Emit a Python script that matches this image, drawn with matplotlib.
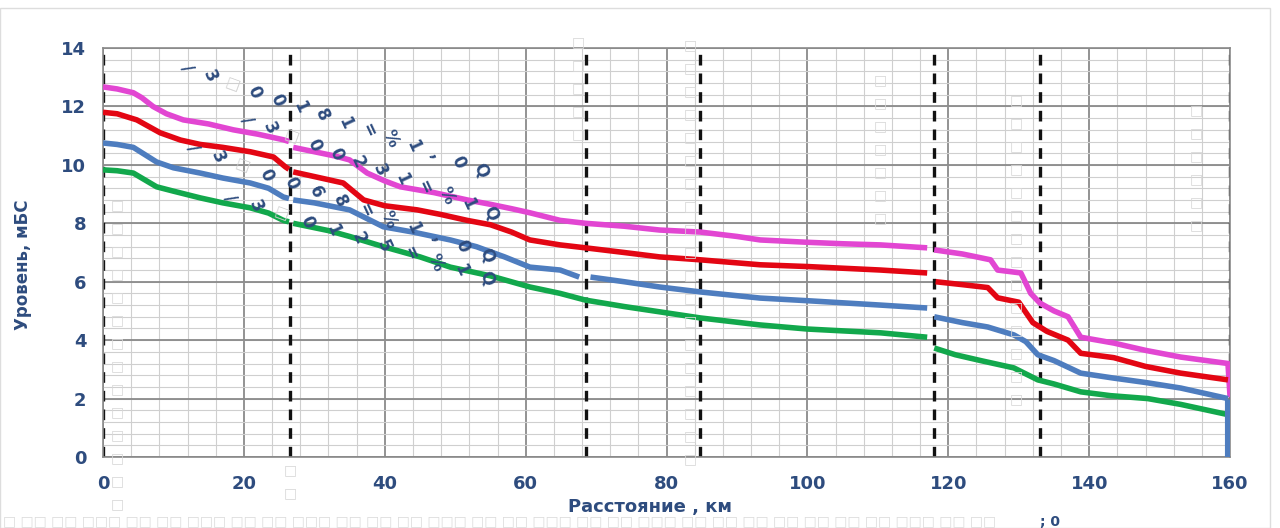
import numpy as np
import matplotlib
matplotlib.use("Agg")
import matplotlib.pyplot as plt
from matplotlib.patches import Rectangle

# ── Data ──────────────────────────────────────────────────────────────────────
# each series is split into segments, the curves break at the dashed posts
MAG_X = [
    [0, 2, 4.3, 5.5, 7.1, 9, 11.4, 15, 18.5, 22, 25.6, 26.4],
    [27, 30, 33, 35, 37.5, 40, 42.2, 47, 51.7, 55, 58, 60.6, 64.9, 68.5, 74, 79,
     84.8, 90, 93.3, 100, 105, 110.4, 117],
    [118, 122, 126, 127, 130.3, 131.7, 133, 135, 137, 138.8, 143.5, 148, 153, 159.7, 160],
]
MAG_Y = [
    [12.67, 12.6, 12.47, 12.3, 12.0, 11.75, 11.54, 11.4, 11.2, 11.05, 10.86, 10.8],
    [10.6, 10.45, 10.3, 10.17, 9.72, 9.45, 9.25, 9.05, 8.8, 8.65, 8.5, 8.36, 8.1, 8.0, 7.9, 7.77,
     7.7, 7.55, 7.43, 7.35, 7.3, 7.26, 7.16],
    [7.09, 6.95, 6.75, 6.4, 6.3, 5.6, 5.27, 5.0, 4.8, 4.1, 3.9, 3.65, 3.42, 3.2, 2.05],
]

RED_X = [
    [0, 2, 4.8, 8.1, 11, 13.8, 17, 20.9, 24.2, 25.9, 26.4],
    [27, 30, 34.1, 37, 40, 44.6, 48, 51.7, 55, 58, 60.6, 64.9, 68.5, 74, 79, 84.8, 93.3, 100, 110.4, 117],
    [118.2, 122, 125.6, 127, 130, 132, 134, 137, 138.8, 143.5, 148, 153, 159.7],
]
RED_Y = [
    [11.8, 11.75, 11.54, 11.1, 10.85, 10.7, 10.6, 10.45, 10.27, 9.93, 9.85],
    [9.76, 9.6, 9.38, 8.8, 8.6, 8.46, 8.3, 8.1, 7.95, 7.7, 7.43, 7.26, 7.16, 7.0, 6.85, 6.75, 6.58, 6.52, 6.4, 6.3],
    [6.0, 5.9, 5.8, 5.45, 5.3, 4.6, 4.3, 4.0, 3.55, 3.4, 3.1, 2.87, 2.64],
]

BLUE_X = [
    [0, 2, 4.3, 7.6, 10, 13.8, 17, 20.9, 23.5, 25.6, 26.4],
    [27, 30, 35, 39.8, 44, 49.3, 53, 57, 60.6, 64.9, 67.6],
    [69.2, 74, 79, 84.8, 93.3, 100, 110.4, 117],
    [118, 122, 125.6, 129.3, 131, 132.7, 135, 138.8, 143.5, 148, 153, 159.7],
]
BLUE_Y = [
    [10.75, 10.7, 10.6, 10.1, 9.9, 9.72, 9.55, 9.38, 9.2, 8.9, 8.85],
    [8.8, 8.7, 8.46, 7.88, 7.7, 7.43, 7.2, 6.85, 6.5, 6.4, 6.16],
    [6.16, 6.0, 5.82, 5.65, 5.44, 5.35, 5.2, 5.1],
    [4.8, 4.6, 4.45, 4.18, 3.95, 3.5, 3.3, 2.87, 2.7, 2.55, 2.36, 2.0],
]
BLUE_END_BAR = [0, 2.0]   # thick bar at the end of the profile

GREEN_X = [
    [0, 2, 4.3, 7.6, 10, 13.8, 17, 20.9, 23.5, 25.6, 26.4],
    [27, 32, 35, 39.8, 45, 49.3, 55, 60.6, 64.9, 68.5, 74, 79, 84.8, 93.3, 100, 110.4, 117],
    [118, 121, 124.6, 129.3, 132.7, 135, 138.8, 143, 148.3, 153, 159.7],
]
GREEN_Y = [
    [9.83, 9.8, 9.72, 9.25, 9.1, 8.87, 8.7, 8.53, 8.35, 8.1, 8.05],
    [8.0, 7.75, 7.55, 7.2, 6.85, 6.5, 6.2, 5.82, 5.6, 5.37, 5.15, 4.97, 4.76, 4.52, 4.38, 4.25, 4.1],
    [3.73, 3.5, 3.3, 3.05, 2.64, 2.5, 2.23, 2.1, 2.0, 1.8, 1.45],
]

POSTS_KM = [0, 26.6, 68.5, 84.8, 118, 133, 160]

X_TICKS = [0, 20, 40, 60, 80, 100, 120, 140, 160]
Y_TICKS = [0, 2, 4, 6, 8, 10, 12, 14]

# rotated discharge labels: text, (x, y) of the "Q" end, (x, y) of the far end
LABELS = [
    ("Q0,1%=18100м3/", (53.6, 9.83), (11.9, 13.3)),
    ("Q1%=13200м3/", (55.0, 8.36), (20.5, 11.54)),
    ("Q0,1%=8600м3/", (54.5, 6.92), (12.8, 10.58)),
    ("Q1%=5210м3/", (54.5, 6.13), (18.0, 8.87)),
]

# ── Style ─────────────────────────────────────────────────────────────────────
C_MAG = "#E246D2"
C_RED = "#E30613"
C_BLUE = "#4E7DBF"
C_GREEN = "#12A84C"
C_TEXT = "#2E4C7E"

fig = plt.figure(figsize=(12.8, 5.28), dpi=100)
fig.patches.append(Rectangle((0.0, 0.0), 0.992, 0.985, transform=fig.transFigure,
                             fill=False, edgecolor="#dddddd", linewidth=1))
ax = fig.add_axes([0.0805, 0.1345, 0.8805, 0.7745])

# grid
for x in np.arange(0, 161, 4):
    major = x % 20 == 0
    ax.axvline(x, color="#8a8a8a" if major else "#cfcfcf",
               linewidth=1.3 if major else 0.8, zorder=1)
for y in np.arange(0, 14.01, 0.4):
    ax.axhline(y, color="#cfcfcf", linewidth=0.8, zorder=1)
for y in Y_TICKS:
    ax.axhline(y, color="#8a8a8a", linewidth=1.3, zorder=1)

# dashed posts
for x in POSTS_KM:
    ax.axvline(x, color="#111111", linewidth=2.4, linestyle=(0, (3.2, 2.4)), zorder=2)

# profiles
for xs, ys, c in [(MAG_X, MAG_Y, C_MAG), (RED_X, RED_Y, C_RED),
                  (BLUE_X, BLUE_Y, C_BLUE), (GREEN_X, GREEN_Y, C_GREEN)]:
    for sx, sy in zip(xs, ys):
        ax.plot(sx, sy, color=c, linewidth=4, solid_capstyle="butt", zorder=4)
ax.plot([160, 160], BLUE_END_BAR, color=C_BLUE, linewidth=8,
        solid_capstyle="butt", zorder=5)

# rotated labels, one glyph at a time ("м" shows as an empty box in the source)
for text, q_end, far_end in LABELS:
    n = len(text)
    px = np.linspace(q_end[0], far_end[0], n)
    py = np.linspace(q_end[1], far_end[1], n)
    for ch, tx, ty in zip(text, px, py):
        if ch == "м":
            ax.text(tx, ty, "□", rotation=-20, ha="center", va="center",
                    fontsize=11, color="#d0d0d0", zorder=6)
            continue
        ax.text(tx, ty, ch, rotation=-65, ha="center", va="center",
                fontsize=12, fontweight="bold", color=C_TEXT, zorder=6)

# missing-glyph boxes seen in the reference
BOX_COLUMNS = [(117, 205, 505), (290, 470, 500), (578, 42, 150), (690, 45, 470),
               (880, 80, 220), (1016, 100, 420), (1196, 110, 240)]
for bx, y0, y1 in BOX_COLUMNS:
    for by in np.arange(y0, y1, 23):
        fig.text(bx / 1280, 1 - by / 528, "□", color="#d8d8d8", fontsize=10,
                 ha="center", va="center")
fig.text(0.002, 1 - 521 / 528,
         "□ □□ □□ □□□ □□ □□ □□□ □□ □□ □□□ □□ □□ □□ □□□ □□ □□ □□□ □□ □□ □□□ □□ □□ □□ □□ □□ □□ □□ □□□ □□ □□",
         color="#dcdcdc", fontsize=10, ha="left", va="center")
fig.text(1040 / 1280, 1 - 522 / 528, "; 0", color=C_TEXT, fontsize=10,
         fontweight="bold", ha="left", va="center")

# axes
ax.set_xlim(0, 160)
ax.set_ylim(0, 14)
ax.set_xticks(X_TICKS)
ax.set_yticks(Y_TICKS)
ax.tick_params(length=0, labelsize=13, labelcolor=C_TEXT)
ax.tick_params(axis="x", pad=13)
ax.tick_params(axis="y", pad=12)
for lbl in ax.get_xticklabels() + ax.get_yticklabels():
    lbl.set_fontweight("bold")
for s in ax.spines.values():
    s.set_color("#8a8a8a")
    s.set_linewidth(1.2)

ax.set_xlabel("Расстояние , км", fontsize=13, fontweight="bold", color=C_TEXT)
ax.xaxis.set_label_coords(0.485, -0.1)
ax.set_ylabel("Уровень, мБС", fontsize=12, fontweight="bold", color=C_TEXT)
ax.yaxis.set_label_coords(-0.063, 0.47)

plt.savefig("out.png", dpi=100)
plt.close()
